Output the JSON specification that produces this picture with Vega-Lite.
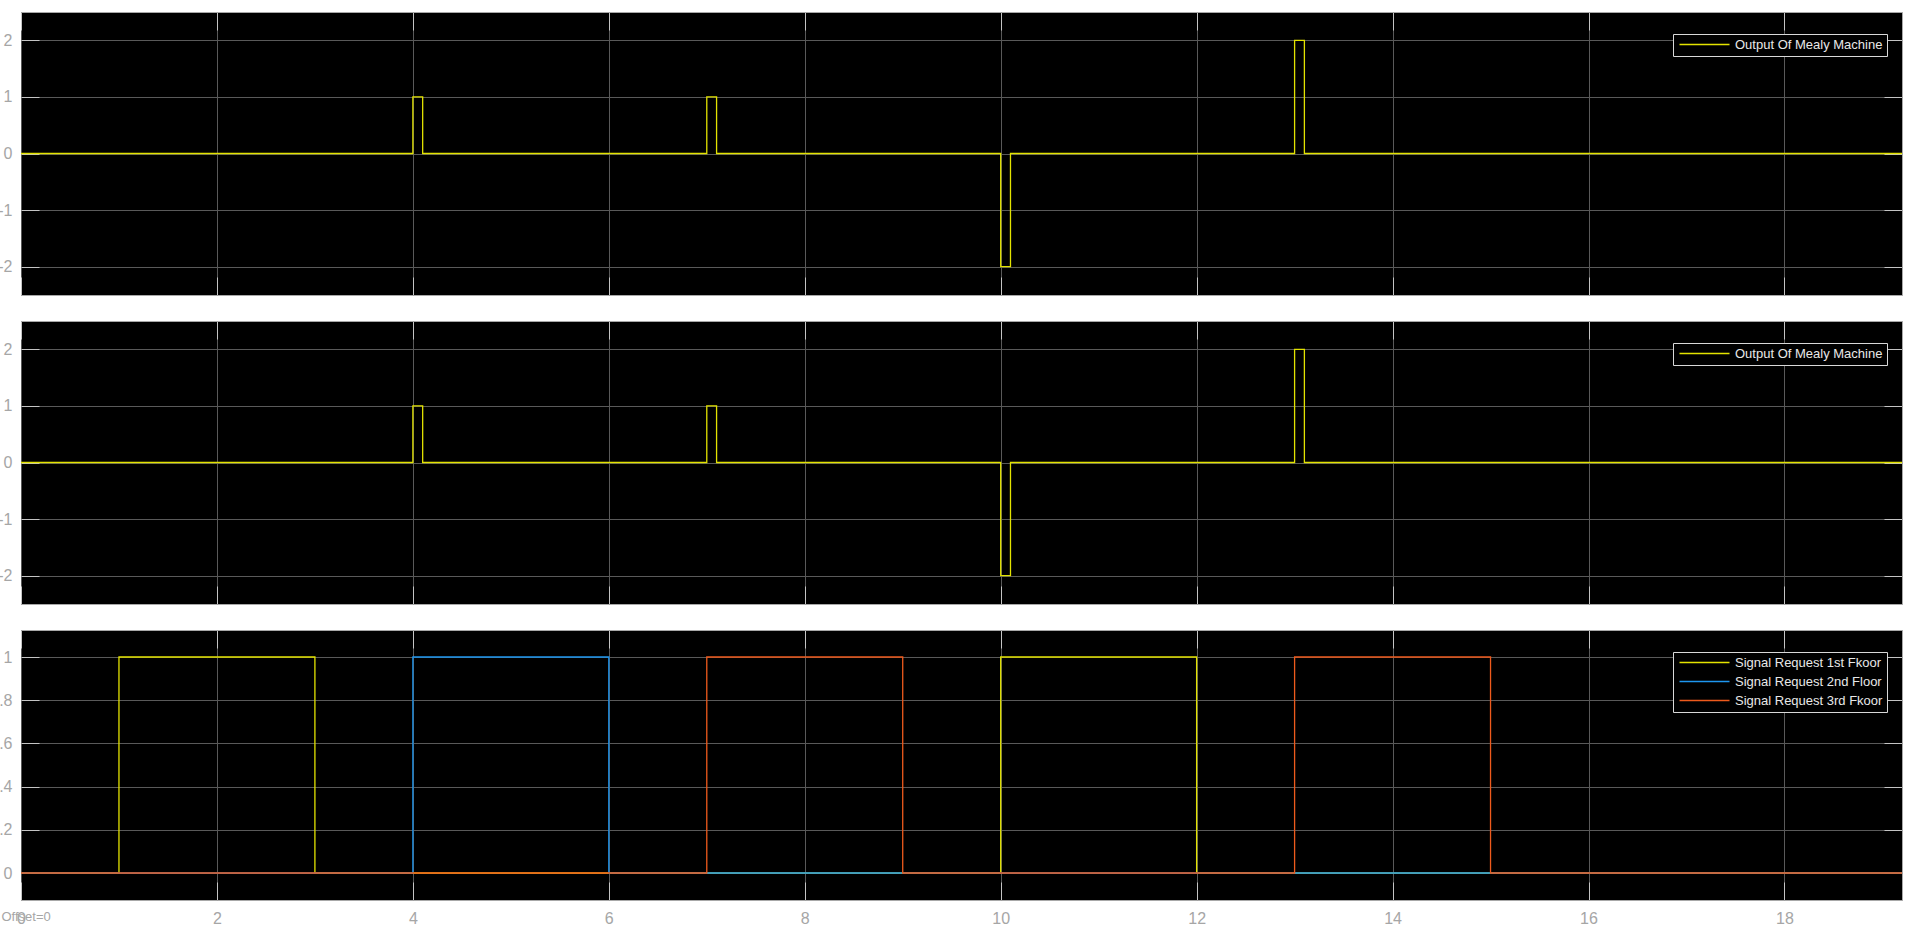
{
  "$schema": "https://vega.github.io/schema/vega-lite/v6.json",
  "background": "white",
  "padding": {"left": -11, "top": 11, "right": 0, "bottom": 0},
  "spacing": 26,
  "bounds": "flush",
  "datasets": {
    "mealy": [
      {"t": 0, "v": 0, "series": "Output Of Mealy Machine"},
      {"t": 4, "v": 1, "series": "Output Of Mealy Machine"},
      {"t": 4.1, "v": 0, "series": "Output Of Mealy Machine"},
      {"t": 7, "v": 1, "series": "Output Of Mealy Machine"},
      {"t": 7.1, "v": 0, "series": "Output Of Mealy Machine"},
      {"t": 10, "v": -2, "series": "Output Of Mealy Machine"},
      {"t": 10.1, "v": 0, "series": "Output Of Mealy Machine"},
      {"t": 13, "v": 2, "series": "Output Of Mealy Machine"},
      {"t": 13.1, "v": 0, "series": "Output Of Mealy Machine"},
      {"t": 19.2, "v": 0, "series": "Output Of Mealy Machine"}
    ],
    "signals": [
      {"t": 0, "v": 0, "series": "Signal Request 1st Fkoor"},
      {"t": 1, "v": 1, "series": "Signal Request 1st Fkoor"},
      {"t": 3, "v": 0, "series": "Signal Request 1st Fkoor"},
      {"t": 10, "v": 1, "series": "Signal Request 1st Fkoor"},
      {"t": 12, "v": 0, "series": "Signal Request 1st Fkoor"},
      {"t": 19.2, "v": 0, "series": "Signal Request 1st Fkoor"},
      {"t": 0, "v": 0, "series": "Signal Request 2nd Floor"},
      {"t": 4, "v": 1, "series": "Signal Request 2nd Floor"},
      {"t": 6, "v": 0, "series": "Signal Request 2nd Floor"},
      {"t": 19.2, "v": 0, "series": "Signal Request 2nd Floor"},
      {"t": 0, "v": 0, "series": "Signal Request 3rd Fkoor"},
      {"t": 7, "v": 1, "series": "Signal Request 3rd Fkoor"},
      {"t": 9, "v": 0, "series": "Signal Request 3rd Fkoor"},
      {"t": 13, "v": 1, "series": "Signal Request 3rd Fkoor"},
      {"t": 15, "v": 0, "series": "Signal Request 3rd Fkoor"},
      {"t": 19.2, "v": 0, "series": "Signal Request 3rd Fkoor"}
    ]
  },
  "resolve": {"scale": {"color": "independent"}, "legend": {"color": "independent"}},
  "vconcat": [
    {
      "width": 1881, "height": 283,
      "data": {"name": "mealy"},
      "layer": [
        {
          "mark": {"type": "line", "interpolate": "step-after", "strokeWidth": 1.3},
          "encoding": {
            "x": {"field": "t", "type": "quantitative", "scale": {"domain": [0, 19.2], "nice": false, "zero": false},
                  "axis": {"orient": "bottom", "title": null, "values": [0,2,4,6,8,10,12,14,16,18], "grid": true, "labels": false}},
            "y": {"field": "v", "type": "quantitative", "scale": {"domain": [-2.5, 2.5], "nice": false, "zero": false},
                  "axis": {"orient": "left", "title": null, "values": [-2,-1,0,1,2], "grid": true, "labels": true, "labelExpr": "'' + datum.value", "labelPadding": 27}},
            "color": {"field": "series", "type": "nominal",
                      "scale": {"domain": ["Output Of Mealy Machine"], "range": ["#e3e300"]},
                      "legend": {"orient": "none", "legendX": 1652, "legendY": 22, "title": null}}
          }
        },
        {
          "mark": {"type": "point", "opacity": 0},
          "encoding": {
            "x": {"field": "t", "type": "quantitative", "axis": {"orient": "top", "title": null, "values": [0,2,4,6,8,10,12,14,16,18], "grid": false, "labels": false}},
            "y": {"field": "v", "type": "quantitative", "axis": {"orient": "right", "title": null, "values": [-2,-1,0,1,2], "grid": false, "labels": false}}
          }
        }
      ],
      "resolve": {"axis": {"x": "independent", "y": "independent"}}
    },
    {
      "width": 1881, "height": 283,
      "data": {"name": "mealy"},
      "layer": [
        {
          "mark": {"type": "line", "interpolate": "step-after", "strokeWidth": 1.3},
          "encoding": {
            "x": {"field": "t", "type": "quantitative", "scale": {"domain": [0, 19.2], "nice": false, "zero": false},
                  "axis": {"orient": "bottom", "title": null, "values": [0,2,4,6,8,10,12,14,16,18], "grid": true, "labels": false}},
            "y": {"field": "v", "type": "quantitative", "scale": {"domain": [-2.5, 2.5], "nice": false, "zero": false},
                  "axis": {"orient": "left", "title": null, "values": [-2,-1,0,1,2], "grid": true, "labels": true, "labelExpr": "'' + datum.value", "labelPadding": 27}},
            "color": {"field": "series", "type": "nominal",
                      "scale": {"domain": ["Output Of Mealy Machine"], "range": ["#e3e300"]},
                      "legend": {"orient": "none", "legendX": 1652, "legendY": 22, "title": null}}
          }
        },
        {
          "mark": {"type": "point", "opacity": 0},
          "encoding": {
            "x": {"field": "t", "type": "quantitative", "axis": {"orient": "top", "title": null, "values": [0,2,4,6,8,10,12,14,16,18], "grid": false, "labels": false}},
            "y": {"field": "v", "type": "quantitative", "axis": {"orient": "right", "title": null, "values": [-2,-1,0,1,2], "grid": false, "labels": false}}
          }
        }
      ],
      "resolve": {"axis": {"x": "independent", "y": "independent"}}
    },
    {
      "width": 1881, "height": 270,
      "data": {"name": "signals"},
      "layer": [
        {
          "mark": {"type": "line", "interpolate": "step-after", "strokeWidth": 1.3},
          "encoding": {
            "x": {"field": "t", "type": "quantitative", "scale": {"domain": [0, 19.2], "nice": false, "zero": false},
                  "axis": {"orient": "bottom", "title": "Offset=0", "titleX": -20, "titleY": 16, "titleAlign": "left", "titleBaseline": "middle",
                           "titleFontWeight": "normal", "titleFontSize": 13, "titleColor": "#a6a6a6", "titleFont": "Liberation Sans",
                           "values": [0,2,4,6,8,10,12,14,16,18], "grid": true, "labels": true, "labelPadding": 28, "labelFlush": false, "labelOverlap": false}},
            "y": {"field": "v", "type": "quantitative", "scale": {"domain": [-0.125, 1.125], "nice": false, "zero": false},
                  "axis": {"orient": "left", "title": null, "values": [0,0.2,0.4,0.6,0.8,1], "grid": true, "labels": true, "labelExpr": "'' + datum.value", "labelPadding": 27}},
            "color": {"field": "series", "type": "nominal",
                      "scale": {"domain": ["Signal Request 1st Fkoor", "Signal Request 2nd Floor", "Signal Request 3rd Fkoor"], "range": ["#e3e300", "#1e96f0", "#ee5a1c"]},
                      "legend": {"orient": "none", "legendX": 1652, "legendY": 22, "title": null}}
          }
        },
        {
          "mark": {"type": "point", "opacity": 0},
          "encoding": {
            "x": {"field": "t", "type": "quantitative", "axis": {"orient": "top", "title": null, "values": [0,2,4,6,8,10,12,14,16,18], "grid": false, "labels": false}},
            "y": {"field": "v", "type": "quantitative", "axis": {"orient": "right", "title": null, "values": [0,0.2,0.4,0.6,0.8,1], "grid": false, "labels": false}}
          }
        }
      ],
      "resolve": {"axis": {"x": "independent", "y": "independent"}}
    }
  ],
  "config": {
    "view": {"fill": "#000000", "stroke": "#a8a8a8", "strokeWidth": 1},
    "axis": {
      "domain": false,
      "gridColor": "#595959",
      "gridOpacity": 1,
      "gridWidth": 1,
      "ticks": true,
      "tickSize": -18,
      "tickColor": "#c4c4c4",
      "tickWidth": 1,
      "labelColor": "#a6a6a6",
      "labelFont": "Liberation Sans",
      "labelFontSize": 16
    },
    "legend": {
      "symbolType": "M-0.8,0H9.2",
      "symbolSize": 100,
      "symbolStrokeWidth": 1.6,
      "labelColor": "#e8e8e8",
      "labelFont": "Liberation Sans",
      "labelFontSize": 13,
      "labelOffset": 45,
      "labelLimit": 400,
      "strokeColor": "#d8d8d8",
      "fillColor": "#000000",
      "padding": 4,
      "rowPadding": 5,
      "cornerRadius": 0
    }
  }
}
